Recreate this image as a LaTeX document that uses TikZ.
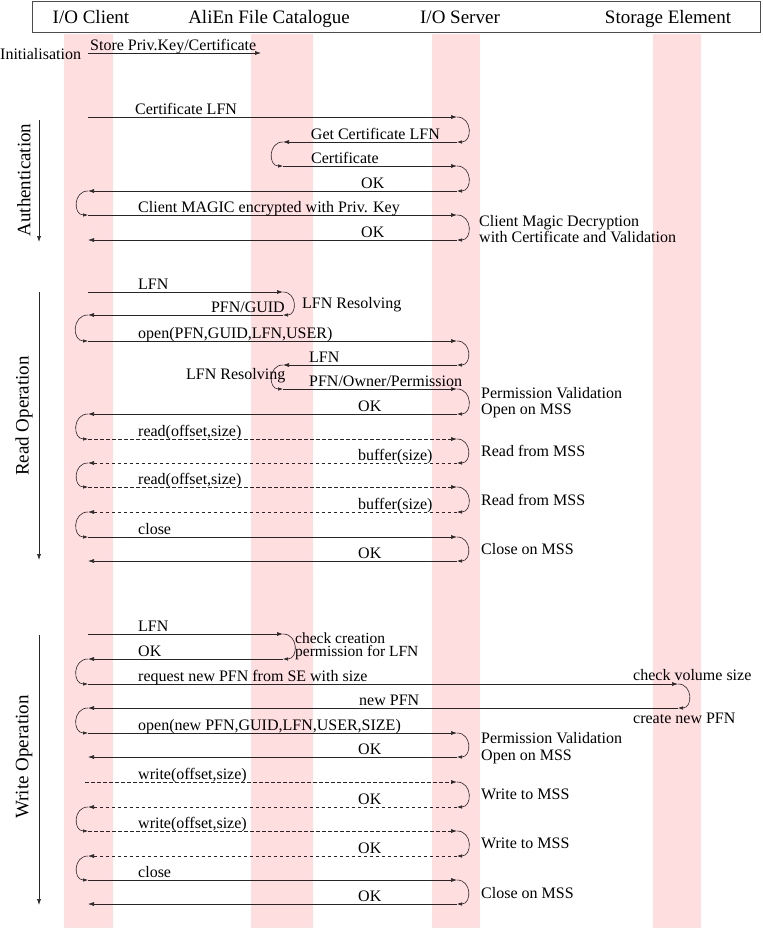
\documentclass[tikz,border=0pt]{standalone}
\usepackage{fontspec}
\setmainfont{Liberation Serif}
\usetikzlibrary{arrows.meta}
\definecolor{lanepink}{RGB}{255,222,224}
\tikzset{
  x=1pt, y=-1pt,
  msg/.style={line width=0.6pt, draw=black!85, -{Latex[length=6pt,width=4pt]}},
  dmsg/.style={msg, dash pattern=on 3.5pt off 2.5pt},
  turn/.style={line width=0.6pt, draw=black!85, -{Latex[length=5pt,width=3.5pt]}},
  tR/.style={out=0, in=0, looseness=1.6},
  tL/.style={out=180, in=180, looseness=1.6},
  lbl/.style={font=\fontsize{16pt}{16pt}\selectfont, inner sep=0pt, anchor=base west},
  lblr/.style={lbl, anchor=base east},
  note/.style={inner sep=0pt, anchor=north west, align=left},
  hdr/.style={font=\fontsize{19pt}{19pt}\selectfont, inner sep=0pt, anchor=base},
  phase/.style={font=\fontsize{19pt}{19pt}\selectfont, inner sep=0pt, rotate=90},
}
\newcommand\hm[5]{%
  \coordinate (#1s) at (#3,#2);
  \coordinate (#1e) at (#4,#2);
  \draw[#5] (#1s) -- (#1e);}
\begin{document}
\begin{tikzpicture}
\useasboundingbox (0,0) rectangle (763,930);
% lanes
\fill[lanepink] (64,34) rectangle (113,928);
\fill[lanepink] (251,34) rectangle (313,928);
\fill[lanepink] (432,34) rectangle (480,928);
\fill[lanepink] (653,34) rectangle (701,928);
% header
\draw[black!70, line width=0.7pt] (32,1) rectangle (760,32);
\node[hdr] (h1) at (91,23) {I/O Client};
\node[hdr] (h2) at (269,23) {AliEn File Catalogue};
\node[hdr] (h3) at (460,23) {I/O Server};
\node[hdr] (h4) at (668,23) {Storage Element};
% initialisation
\node[lbl] (init) at (0,59) {Initialisation};
\hm{i1}{53}{88}{261}{msg}
\node[lbl] (li1) at (90,50) {Store Priv.Key/Certificate};
% ---------------- Authentication
\node[phase] (pauth) at (24,180) {Authentication};
\coordinate (av1) at (39,120); \coordinate (av2) at (39,242);
\draw[msg] (av1) -- (av2);
\hm{c1}{117}{88}{457}{msg}
\hm{c2}{142}{457}{283}{msg}
\hm{c3}{166}{283}{457}{msg}
\hm{c4}{191}{457}{88}{msg}
\hm{c5}{215}{88}{457}{msg}
\hm{c6}{240}{457}{88}{msg}
\draw[turn] (c1e) to[tR] (c2s);
\draw[turn] (c2e) to[tL] (c3s);
\draw[turn] (c3e) to[tR] (c4s);
\draw[turn] (c4e) to[tL] (c5s);
\draw[turn] (c5e) to[tR] (c6s);
\node[lbl] (lc1) at (135,114) {Certificate LFN};
\node[lblr] (lc2) at (440,139) {Get Certificate LFN};
\node[lbl] (lc3) at (311,163) {Certificate};
\node[lbl] (lc4) at (361,188) {OK};
\node[lbl] (lc5) at (138,212) {Client MAGIC encrypted with Priv. Key};
\node[lbl] (lc6) at (361,237) {OK};
\node[note, font=\fontsize{16pt}{14pt}\selectfont] (nc1) at (479,215)
  {Client Magic Decryption\\with Certificate and Validation};
% ---------------- Read Operation
\node[phase] (pread) at (24,416) {Read Operation};
\coordinate (rv1) at (39,292); \coordinate (rv2) at (39,560);
\draw[msg] (rv1) -- (rv2);
\hm{r1}{292}{88}{283}{msg}
\hm{r2}{315}{283}{88}{msg}
\hm{r3}{341}{88}{457}{msg}
\hm{r4}{365}{457}{283}{msg}
\hm{r5}{389}{283}{457}{msg}
\hm{r6}{414}{457}{88}{msg}
\hm{r7}{439}{88}{457}{dmsg}
\hm{r8}{463}{457}{88}{dmsg}
\hm{r9}{487}{88}{457}{dmsg}
\hm{r10}{512}{457}{88}{dmsg}
\hm{r11}{537}{88}{457}{msg}
\hm{r12}{561}{457}{88}{msg}
\draw[turn] (r1e) to[tR] (r2s);
\draw[turn] (r2e) to[tL] (r3s);
\draw[turn] (r3e) to[tR] (r4s);
\draw[turn] (r4e) to[tL] (r5s);
\draw[turn] (r5e) to[tR] (r6s);
\draw[turn] (r6e) to[tL] (r7s);
\draw[turn] (r7e) to[tR] (r8s);
\draw[turn] (r8e) to[tL] (r9s);
\draw[turn] (r9e) to[tR] (r10s);
\draw[turn] (r10e) to[tL] (r11s);
\draw[turn] (r11e) to[tR] (r12s);
\node[lbl] (lr1) at (138,289) {LFN};
\node[lblr] (lr2) at (285,312) {PFN/GUID};
\node[lbl] (lr3) at (138,338) {open(PFN,GUID,LFN,USER)};
\node[lbl] (lr4) at (309,362) {LFN};
\node[lbl] (lr5) at (309,386) {PFN/Owner/Permission};
\node[lbl] (lr6) at (358,411) {OK};
\node[lbl] (lr7) at (138,436) {read(offset,size)};
\node[lbl] (lr8) at (358,460) {buffer(size)};
\node[lbl] (lr9) at (138,484) {read(offset,size)};
\node[lbl] (lr10) at (358,509) {buffer(size)};
\node[lbl] (lr11) at (138,534) {close};
\node[lbl] (lr12) at (358,558) {OK};
\node[lbl] (nr1) at (302,308) {LFN Resolving};
\node[lbl] (nr2) at (186,379) {LFN Resolving};
\node[lbl] (nr3) at (481,398) {Permission Validation};
\node[lbl] (nr4) at (481,414) {Open on MSS};
\node[lbl] (nr5) at (481,456) {Read from MSS};
\node[lbl] (nr6) at (481,505) {Read from MSS};
\node[lbl] (nr7) at (481,554) {Close on MSS};
% ---------------- Write Operation
\node[phase] (pwrite) at (24,757) {Write Operation};
\coordinate (wv1) at (39,635); \coordinate (wv2) at (39,905);
\draw[msg] (wv1) -- (wv2);
\hm{w1}{634}{88}{283}{msg}
\hm{w2}{659}{283}{88}{msg}
\hm{w3}{684}{88}{678}{msg}
\hm{w4}{708}{678}{88}{msg}
\hm{w5}{733}{88}{457}{msg}
\hm{w6}{757}{457}{88}{msg}
\hm{w7}{782}{85}{457}{dmsg}
\hm{w8}{807}{457}{88}{dmsg}
\hm{w9}{831}{88}{457}{dmsg}
\hm{w10}{856}{457}{88}{dmsg}
\hm{w11}{880}{88}{457}{msg}
\hm{w12}{904}{457}{88}{msg}
\draw[turn] (w1e) to[tR] (w2s);
\draw[turn] (w2e) to[tL] (w3s);
\draw[turn] (w3e) to[tR] (w4s);
\draw[turn] (w4e) to[tL] (w5s);
\draw[turn] (w5e) to[tR] (w6s);
\draw[turn] (w7e) to[tR] (w8s);
\draw[turn] (w8e) to[tL] (w9s);
\draw[turn] (w9e) to[tR] (w10s);
\draw[turn] (w10e) to[tL] (w11s);
\draw[turn] (w11e) to[tR] (w12s);
\node[lbl] (lw1) at (138,631) {LFN};
\node[lbl] (lw2) at (138,656) {OK};
\node[lbl] (lw3) at (138,681) {request new PFN from SE with size};
\node[lbl] (lw4) at (359,705) {new PFN};
\node[lbl] (lw5) at (138,730) {open(new PFN,GUID,LFN,USER,SIZE)};
\node[lbl] (lw6) at (358,754) {OK};
\node[lbl] (lw7) at (138,779) {write(offset,size)};
\node[lbl] (lw8) at (358,804) {OK};
\node[lbl] (lw9) at (138,828) {write(offset,size)};
\node[lbl] (lw10) at (358,853) {OK};
\node[lbl] (lw11) at (138,877) {close};
\node[lbl] (lw12) at (358,901) {OK};
\node[note, font=\fontsize{15.5pt}{13pt}\selectfont] (nw1) at (295,633)
  {check creation\\permission for LFN};
\node[lbl] (nw3) at (633,680) {check volume size};
\node[lbl] (nw4) at (633,723) {create new PFN};
\node[lbl] (nw5) at (481,743) {Permission Validation};
\node[lbl] (nw6) at (481,760) {Open on MSS};
\node[lbl] (nw7) at (481,799) {Write to MSS};
\node[lbl] (nw8) at (481,848) {Write to MSS};
\node[lbl] (nw9) at (481,898) {Close on MSS};
\end{tikzpicture}
\end{document}
